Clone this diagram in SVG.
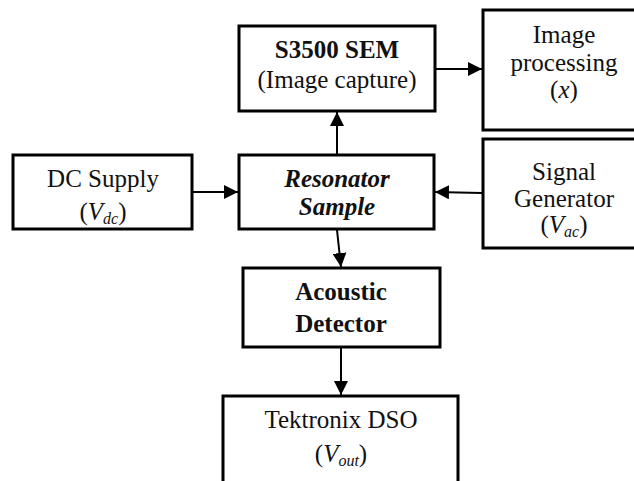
<svg xmlns="http://www.w3.org/2000/svg" width="634" height="481" viewBox="0 0 634 481">
<style>
.box{fill:#fff;stroke:#000;stroke-width:3}
text{font-family:"Liberation Serif","Times New Roman",serif;font-size:25px;fill:#111;text-anchor:middle}
.b{font-weight:bold}
.bi{font-weight:bold;font-style:italic}
.i{font-style:italic}
.sub{font-size:16px;font-style:italic}
.conn{stroke:#000;stroke-width:2;fill:none;marker-end:url(#ah)}
</style>
<defs>
<marker id="ah" markerWidth="14" markerHeight="14" refX="14" refY="7" orient="auto" markerUnits="userSpaceOnUse">
<path d="M0,0 L14,7 L0,14 Z" fill="#000"/>
</marker>
</defs>
<rect width="634" height="481" fill="#fff"/>
<g id="sem">
<rect class="box" x="239" y="26" width="196" height="85"/>
<text class="b" x="337" y="58">S3500 SEM</text>
<text x="337" y="88">(Image capture)</text>
</g>
<g id="imgproc">
<rect class="box" x="483" y="10" width="170" height="120"/>
<text x="564" y="43">Image</text>
<text x="564" y="71">processing</text>
<text x="564" y="98">(<tspan class="i">x</tspan>)</text>
</g>
<g id="dc">
<rect class="box" x="13" y="155" width="179" height="74"/>
<text x="103" y="187">DC Supply</text>
<text x="103" y="220">(<tspan class="i">V</tspan><tspan class="sub" dy="4">dc</tspan><tspan dy="-4">)</tspan></text>
</g>
<g id="resonator">
<rect class="box" x="239" y="155" width="195" height="74"/>
<text class="bi" x="337" y="187">Resonator</text>
<text class="bi" x="337" y="215">Sample</text>
</g>
<g id="siggen">
<rect class="box" x="483" y="139" width="170" height="109"/>
<text x="564" y="180">Signal</text>
<text x="564" y="207">Generator</text>
<text x="564" y="233">(<tspan class="i">V</tspan><tspan class="sub" dy="4">ac</tspan><tspan dy="-4">)</tspan></text>
</g>
<g id="acoustic">
<rect class="box" x="243" y="268" width="197" height="79"/>
<text class="b" x="341" y="300">Acoustic</text>
<text class="b" x="341" y="332">Detector</text>
</g>
<g id="dso">
<rect class="box" x="223" y="396" width="235" height="100"/>
<text x="341" y="428">Tektronix DSO</text>
<text x="341" y="462">(<tspan class="i">V</tspan><tspan class="sub" dy="4">out</tspan><tspan dy="-4">)</tspan></text>
</g>
<g id="connectors">
<line class="conn" x1="337" y1="154" x2="337" y2="112"/>
<line class="conn" x1="436" y1="69" x2="482" y2="69"/>
<line class="conn" x1="193" y1="192" x2="238" y2="192"/>
<line class="conn" x1="482" y1="193" x2="435" y2="192"/>
<line class="conn" x1="337" y1="230" x2="341" y2="267"/>
<line class="conn" x1="341" y1="348" x2="341" y2="395"/>
</g>
</svg>
